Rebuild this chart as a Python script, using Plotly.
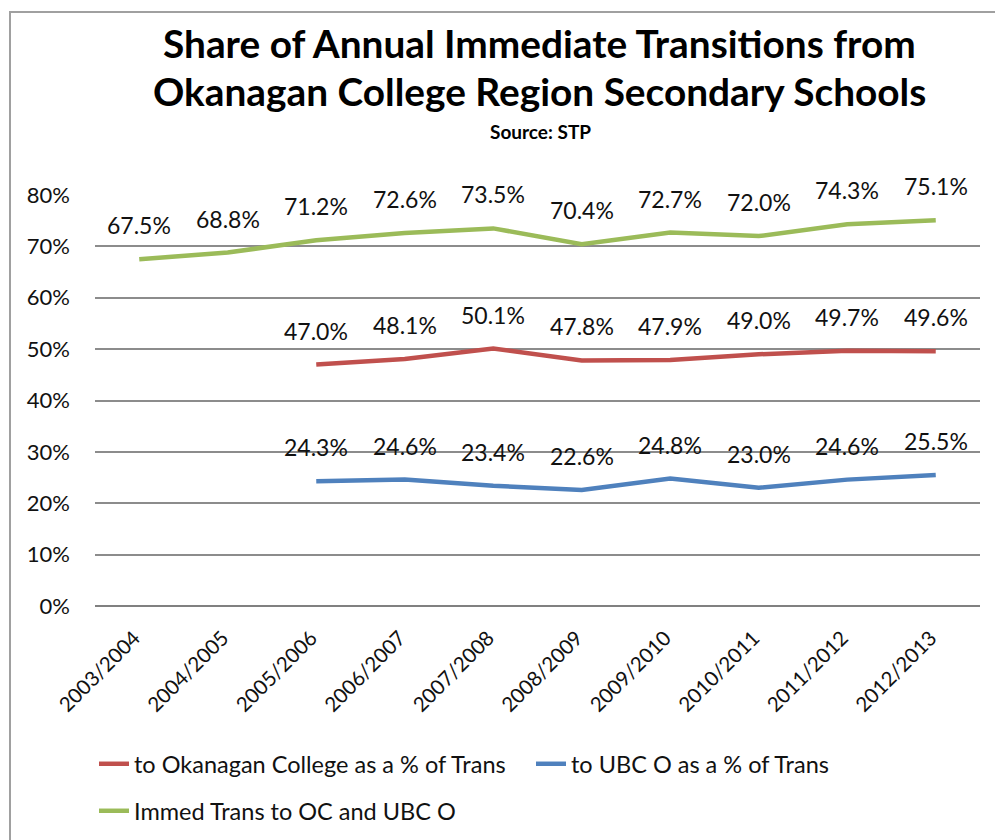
import plotly.graph_objects as go

categories = ["2003/2004", "2004/2005", "2005/2006", "2006/2007", "2007/2008",
              "2008/2009", "2009/2010", "2010/2011", "2011/2012", "2012/2013"]
oc_share = [None, None, 47.0, 48.1, 50.1, 47.8, 47.9, 49.0, 49.7, 49.6]
ubco_share = [None, None, 24.3, 24.6, 23.4, 22.6, 24.8, 23.0, 24.6, 25.5]
immed_trans = [67.5, 68.8, 71.2, 72.6, 73.5, 70.4, 72.7, 72.0, 74.3, 75.1]
y_ticks = [0, 10, 20, 30, 40, 50, 60, 70, 80]
y_tick_labels = ["0%", "10%", "20%", "30%", "40%", "50%", "60%", "70%", "80%"]

names = ["to Okanagan College as a % of Trans", "to UBC O as a % of Trans", "Immed Trans to OC and UBC O"]
colors = ["#C0504D", "#4F81BD", "#9BBB59"]
series = [oc_share, ubco_share, immed_trans]
legends = ["legend", "legend", "legend2"]

FONT = "Lato, Open Sans, sans-serif"

fig = go.Figure()
for name, vals, col, lg in zip(names, series, colors, legends):
    fig.add_trace(go.Scatter(
        x=categories, y=vals, mode="lines", name=name,
        line=dict(color=col, width=4.5), legend=lg, connectgaps=False,
        hoverinfo="skip"))

annotations = []
for vals in series:
    for c, v in zip(categories, vals):
        if v is None:
            continue
        annotations.append(dict(x=c, y=v, xref="x", yref="y", text=f"{v:.1f}%",
                                showarrow=False, yshift=34, yanchor="middle",
                                font=dict(family=FONT, size=23, color="#111111")))

W, H = 995, 840
L, R, T, B = 95, 15, 195, 234
pw, ph = W - L - R, H - T - B

def px(xp):
    return (xp - L) / pw

def py(yp):
    return (H - B - yp) / ph

annotations.append(dict(x=px(539), y=py(43), xref="paper", yref="paper",
                        text="<b>Share of Annual Immediate Transitions from</b>",
                        showarrow=False, xanchor="center", yanchor="middle",
                        font=dict(family=FONT, size=38.8, color="#000000")))
annotations.append(dict(x=px(539), y=py(91), xref="paper", yref="paper",
                        text="<b>Okanagan College Region Secondary Schools</b>",
                        showarrow=False, xanchor="center", yanchor="middle",
                        font=dict(family=FONT, size=38.8, color="#000000")))
annotations.append(dict(x=px(540), y=py(131), xref="paper", yref="paper",
                        text="<b>Source: STP</b>",
                        showarrow=False, xanchor="center", yanchor="middle",
                        font=dict(family=FONT, size=19, color="#000000")))

shapes = [dict(type="rect", xref="paper", yref="paper",
               x0=px(10), x1=px(1010), y0=py(860), y1=py(12),
               line=dict(color="#A0A0A0", width=2), fillcolor="rgba(0,0,0,0)",
               layer="below")]

fig.update_layout(
    width=W, height=H,
    margin=dict(l=L, r=R, t=T, b=B, autoexpand=False),
    paper_bgcolor="white", plot_bgcolor="white",
    font=dict(family=FONT, size=22, color="#111111"),
    showlegend=True,
    legend=dict(orientation="h", x=px(94), y=py(764), xanchor="left", yanchor="middle",
                font=dict(family=FONT, size=23.5, color="#111111"),
                bgcolor="rgba(0,0,0,0)", itemwidth=30, entrywidth=392),
    legend2=dict(orientation="h", x=px(94), y=py(811), xanchor="left", yanchor="middle",
                 font=dict(family=FONT, size=23.5, color="#111111"),
                 bgcolor="rgba(0,0,0,0)", itemwidth=30),
    annotations=annotations,
    shapes=shapes,
)
fig.update_xaxes(type="category", range=[-0.5, 9.5], tickangle=-45,
                 showgrid=False, showline=False, ticks="", zeroline=False,
                 automargin=False, ticklabelshift=-5, ticklabelstandoff=15,
                 tickfont=dict(family=FONT, size=20.5, color="#111111"))
fig.update_yaxes(range=[0, 80], tickvals=y_ticks, ticktext=y_tick_labels,
                 showgrid=True, gridcolor="#8C8C8C", gridwidth=1.5,
                 zeroline=True, zerolinecolor="#808080", zerolinewidth=2,
                 showline=False, ticks="", ticklabelstandoff=24, automargin=False,
                 tickfont=dict(family=FONT, size=22, color="#111111"))

fig.write_html("out.html", config={"displayModeBar": False},
               post_script="document.body.style.margin='0';document.body.style.overflow='hidden';")
